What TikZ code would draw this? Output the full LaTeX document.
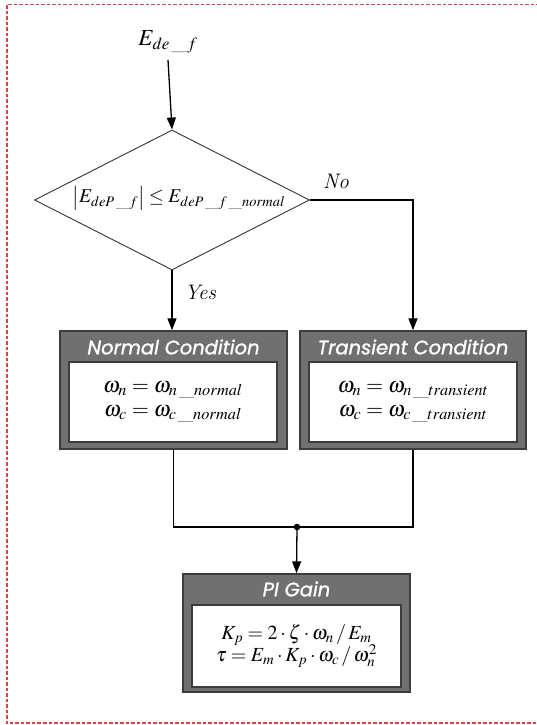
\documentclass[tikz,border=0pt]{standalone}
\usepackage{mathptmx}
\usepackage{fontspec}
\newfontfamily\titlefont{Poppins}[ItalicFeatures={FakeBold=1.2}]
\usetikzlibrary{shapes.geometric,arrows.meta}
\definecolor{boxgray}{HTML}{707070}
\definecolor{boxedge}{HTML}{3C3C3C}
\definecolor{framered}{HTML}{D94545}
\begin{document}
\begin{tikzpicture}[x=1pt,y=-1pt,
  outerbox/.style={draw=boxedge,fill=boxgray,line width=1.4pt,inner sep=0pt},
  innerbox/.style={draw=boxedge,fill=white,line width=1.2pt,inner sep=0pt},
  titletext/.style={text=white,font=\titlefont\itshape\fontsize{19.5}{22}\selectfont},
  eqtext/.style={font=\fontsize{22}{27}\selectfont,align=center},
  conn/.style={line width=1.3pt,draw=black},
  arr/.style={conn,-{Triangle[length=12pt,width=9pt]}},
  lbl/.style={font=\fontsize{21}{24}\selectfont\itshape}]
\useasboundingbox (0,0) rectangle (536,725);
\draw[framered,line width=1.6pt,dash pattern=on 3.5pt off 2pt] (545,4.5) -- (7,4.5) -- (7,723) -- (545,723);

% input
\node[font=\fontsize{23}{25}\selectfont] (in) at (168,42) {$E_{de\,\_f}$};
\coordinate (inbot) at (168,60);

% decision
\node[diamond,draw=black!80,line width=0.9pt,minimum width=275pt,minimum height=140pt,inner sep=0pt] (dec) at (172,200) {};
\node[font=\fontsize{19.5}{22}\selectfont] (dectext) at (179,198) {$\left|E_{deP\,\_f}\right| \le E_{deP\,\_f\,\_normal}$};
\draw[arr] (inbot) -- (dec.north);

% normal box
\node[outerbox,minimum width=227pt,minimum height=118pt] (nb) at (173.5,390) {};
\node[innerbox,minimum width=208pt,minimum height=80pt] (nbi) at (173,402) {};
\node[titletext] (nbt) at (173.5,347) {Normal Condition};
\node[eqtext] (nbe) at (173,402) {$\omega_n = \omega_{n\,\_normal}$\\[-3pt]$\omega_c = \omega_{c\,\_normal}$};

% transient box
\node[outerbox,minimum width=226pt,minimum height=118pt] (tb) at (413,390) {};
\node[innerbox,minimum width=208pt,minimum height=80pt] (tbi) at (413,402) {};
\node[titletext] (tbt) at (413,347) {Transient Condition};
\node[eqtext] (tbe) at (413,402) {$\omega_n = \omega_{n\,\_transient}$\\[-3pt]$\omega_c = \omega_{c\,\_transient}$};

% PI box
\node[outerbox,minimum width=227pt,minimum height=118pt] (pb) at (296.5,633) {};
\node[innerbox,minimum width=209pt,minimum height=82pt] (pbi) at (296.5,646) {};
\node[titletext] (pbt) at (296.5,589) {PI Gain};
\node[eqtext,font=\fontsize{20}{25}\selectfont] (pbe) at (296.5,646) {$K_p = 2\cdot\zeta\cdot\omega_n \,/\, E_m$\\[-3pt]$\tau = E_m\cdot K_p\cdot\omega_c \,/\, \omega_n^2$};

% connectors
\draw[arr] (dec.south) -- (nb.north -| dec.south);
\node[lbl,anchor=west] (yes) at (181,292) {Yes};
\draw[arr] (dec.east) -| (tb.north);
\node[lbl] (no) at (336,181) {No};

\coordinate (join) at (297,527);
\draw[conn] (nb.south) |- (join) -| (tb.south);
\fill[black] (join) circle (3.3pt);
\draw[arr] (join) -- (pb.north);
\end{tikzpicture}
\end{document}
